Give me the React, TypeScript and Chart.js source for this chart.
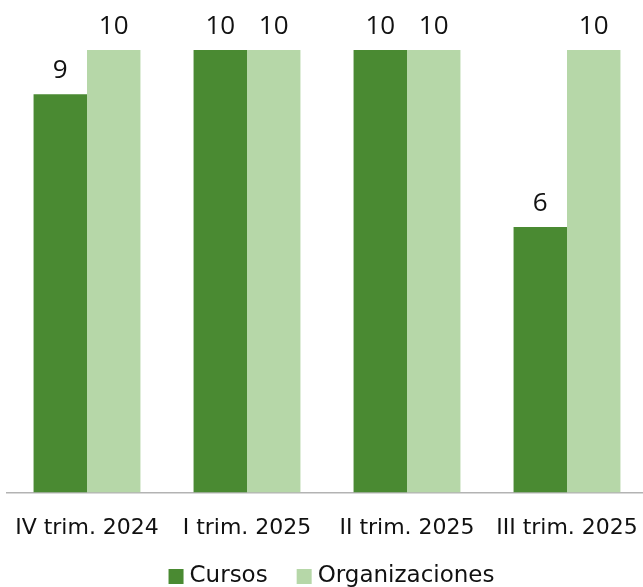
import React, { useEffect, useRef } from "react";
import { Chart, registerables } from "chart.js";

Chart.register(...registerables);

const categories = ["IV trim. 2024", "I trim. 2025", "II trim. 2025", "III trim. 2025"];
const cursos = [9, 10, 10, 6];
const organizaciones = [10, 10, 10, 10];
const seriesNames = ["Cursos", "Organizaciones"];
const colors = ["#4a8a32", "#b6d7a8"];

const valueLabels = {
  id: "valueLabels",
  afterDatasetsDraw(chart: any) {
    const ctx = chart.ctx;
    ctx.save();
    ctx.font = "26px 'Open Sans'";
    ctx.fillStyle = "#111";
    ctx.textAlign = "center";
    ctx.textBaseline = "alphabetic";
    chart.data.datasets.forEach((ds: any, di: number) => {
      const meta = chart.getDatasetMeta(di);
      meta.data.forEach((el: any, i: number) => {
        const v = ds.data[i].y;
        ctx.fillText(String(v), el.x, el.y - 16);
      });
    });
    ctx.restore();
  },
};

const customLegend = {
  id: "customLegend",
  afterDraw(chart: any) {
    const ctx = chart.ctx;
    ctx.save();
    ctx.font = "23px 'DejaVu Sans'";
    const box = 15;
    const gap = 6;
    const itemGap = 29;
    const widths = seriesNames.map((n) => ctx.measureText(n).width);
    const total = widths.reduce((a, w) => a + box + gap + w, 0) + itemGap * (seriesNames.length - 1);
    let x = chart.width / 2 + 10 - total / 2;
    const cy = 576.5;
    ctx.textBaseline = "middle";
    ctx.textAlign = "left";
    seriesNames.forEach((n, i) => {
      ctx.fillStyle = colors[i];
      ctx.fillRect(x, cy - box / 2, box, box);
      ctx.fillStyle = "#111";
      ctx.fillText(n, x + box + gap, cy);
      x += box + gap + widths[i] + itemGap;
    });
    ctx.restore();
  },
};

export default function App() {
  const ref = useRef<HTMLCanvasElement>(null);
  useEffect(() => {
    if (!ref.current) return;
    const chart = new Chart(ref.current, {
      type: "bar",
      data: {
        datasets: [
          {
            label: seriesNames[0],
            data: cursos.map((v, i) => ({ x: i, y: v })),
            backgroundColor: colors[0],
            categoryPercentage: 0.668,
            barPercentage: 1,
          } as any,
          {
            label: seriesNames[1],
            data: organizaciones.map((v, i) => ({ x: i, y: v })),
            backgroundColor: colors[1],
            categoryPercentage: 0.668,
            barPercentage: 1,
          } as any,
        ],
      },
      options: {
        responsive: false,
        animation: false,
        layout: { padding: { top: 50, left: 7, right: 0, bottom: 24 } },
        plugins: {
          legend: { display: false },
          tooltip: { enabled: false },
        },
        scales: {
          x: {
            type: "linear",
            offset: false,
            min: -0.5,
            max: 3.475,
            afterBuildTicks: (scale: any) => {
              scale.ticks = categories.map((_, i) => ({ value: i }));
            },
            afterFit: (scale: any) => {
              scale.paddingLeft = 0;
              scale.paddingRight = 0;
            },
            grid: { display: false, drawTicks: false, offset: false },
            border: { display: true, color: "#b3b3b3", width: 1.5 },
            ticks: {
              autoSkip: false,
              maxRotation: 0,
              padding: 22,
              color: "#111",
              font: { family: "'DejaVu Sans'", size: 22 },
              callback: (v: any) => categories[v as number] ?? "",
            },
          },
          y: {
            display: false,
            min: 0,
            max: 10,
          },
        },
      },
      plugins: [valueLabels, customLegend],
    });
    return () => chart.destroy();
  }, []);
  return (
    <canvas
      ref={ref}
      width={643}
      height={587}
      style={{ position: "absolute", left: 0, top: 0, display: "block" }}
    />
  );
}
